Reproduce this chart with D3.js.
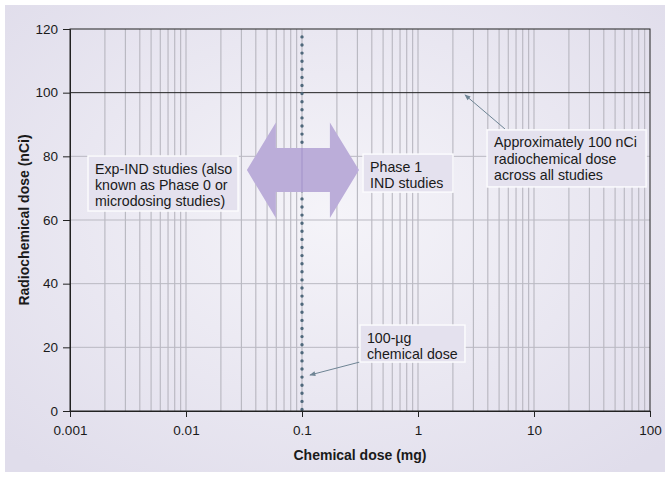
<!DOCTYPE html>
<html>
<head>
<meta charset="utf-8">
<script src="https://cdn.jsdelivr.net/npm/d3@7"></script>
<style>
  body { margin: 0; background: #fff; }
  svg text { font-family: "Liberation Sans", Arial, sans-serif; fill: #1a1a1a; }
</style>
</head>
<body>
<div id="graph"></div>
<script>
// x axis: chemical dose (mg), log scale
const xDomain = [0.001, 100];
const xTickValues = [0.001, 0.01, 0.1, 1, 10, 100];
const xTickLabels = ["0.001", "0.01", "0.1", "1", "10", "100"];

// y axis: radiochemical dose (nCi)
const yDomain = [0, 120];
const yTickValues = [0, 20, 40, 60, 80, 100, 120];

// reference lines
const doseLineX = 0.1;      // 100-µg chemical dose
const doseLineY = 100;      // ~100 nCi radiochemical dose

// double arrow (data units): tips, head bases, shaft and head extents
const arrowTips = [0.0335, 0.31];
const arrowHeadBases = [0.0595, 0.174];
const arrowShaft = [68.8, 82.6];
const arrowHead = [60.6, 90.6];
const arrowMidY = 75.7;

// annotation boxes
const notes = [
    { lines: ["Exp-IND studies (also", "known as Phase 0 or", "microdosing studies)"], x: 0.00143, y: 80.1, w: 150, h: 55 },
    { lines: ["Phase 1", "IND studies"], x: 0.336, y: 80.7, w: 90, h: 38 },
    { lines: ["Approximately 100 nCi", "radiochemical dose", "across all studies"], x: 3.94, y: 88.3, w: 159, h: 57 },
    { lines: ["100-µg", "chemical dose"], x: 0.316, y: 27.0, w: 105, h: 37 }
];

// leader lines: from [x, y] to arrowhead [x, y]
const leaders = [
    { from: [5.62, 88.6], to: [2.54, 99.3] },
    { from: [0.316, 15.4], to: [0.117, 11.3] }
];

const width = 672, height = 477;
const margin = { left: 70, right: 22, top: 29, bottom: 66 };

const svg = d3.select("#graph").append("svg")
    .attr("width", width)
    .attr("height", height);

// background gradient
const defs = svg.append("defs");
const grad = defs.append("radialGradient").attr("id", "bg")
    .attr("cx", "50%").attr("cy", "45%").attr("r", "70%");
grad.append("stop").attr("offset", "0%").attr("stop-color", "#f5f4f9");
grad.append("stop").attr("offset", "100%").attr("stop-color", "#e0ddeb");

svg.append("rect")
    .attr("x", 5).attr("y", 5)
    .attr("width", 660).attr("height", 467)
    .attr("fill", "url(#bg)");

const xScale = d3.scaleLog().domain(xDomain).range([margin.left, width - margin.right]);
const yScale = d3.scaleLinear().domain(yDomain).range([height - margin.bottom, margin.top]);

// vertical grid: 1..9 in every decade
const minor = [];
for (let e = -3; e < 2; e++) {
    for (let m = 1; m <= 9; m++) {
        const v = m * Math.pow(10, e);
        if (v > xDomain[0]) minor.push(v);
    }
}
svg.append("g").selectAll("line").data(minor).join("line")
    .attr("x1", d => xScale(d)).attr("x2", d => xScale(d))
    .attr("y1", yScale(0)).attr("y2", yScale(120))
    .attr("stroke", "#b2b1ba").attr("stroke-width", 1);

// horizontal grid
svg.append("g").selectAll("line").data(yTickValues.filter(d => d > 0 && d < 120 && d !== doseLineY)).join("line")
    .attr("x1", xScale.range()[0]).attr("x2", xScale.range()[1])
    .attr("y1", d => yScale(d)).attr("y2", d => yScale(d))
    .attr("stroke", "#bab9c2").attr("stroke-width", 1);

// 100 nCi line
svg.append("line")
    .attr("x1", xScale.range()[0]).attr("x2", xScale.range()[1])
    .attr("y1", yScale(doseLineY)).attr("y2", yScale(doseLineY))
    .attr("stroke", "#222").attr("stroke-width", 1);

// dotted 100-µg line
svg.append("line")
    .attr("x1", xScale(doseLineX)).attr("x2", xScale(doseLineX))
    .attr("y1", yScale(0) - 1.5).attr("y2", yScale(120))
    .attr("stroke", "#4f687b").attr("stroke-width", 3.4)
    .attr("stroke-linecap", "round")
    .attr("stroke-dasharray", "0 8.1");

// frame
svg.append("rect")
    .attr("x", xScale.range()[0]).attr("y", yScale(120))
    .attr("width", xScale.range()[1] - xScale.range()[0])
    .attr("height", yScale(0) - yScale(120))
    .attr("fill", "none").attr("stroke", "#222").attr("stroke-width", 1);

// axes
const yAxis = svg.append("g")
    .attr("transform", `translate(${margin.left}, 0)`)
    .call(d3.axisLeft(yScale).tickValues(yTickValues).tickSize(7).tickPadding(5));
yAxis.select(".domain").attr("stroke", "#222");
yAxis.selectAll(".tick line").attr("stroke", "#222");
yAxis.selectAll(".tick text").attr("font-size", 13.5).attr("fill", "#1a1a1a")
    .attr("font-family", "Liberation Sans, Arial, sans-serif");

const xAxis = svg.append("g")
    .attr("transform", `translate(0, ${yScale(0)})`)
    .call(d3.axisBottom(xScale).tickValues(xTickValues)
        .tickFormat((d, i) => xTickLabels[i]).tickSize(6).tickPadding(8));
xAxis.select(".domain").attr("stroke", "#222");
xAxis.selectAll(".tick line").attr("stroke", "#222");
xAxis.selectAll(".tick text").attr("font-size", 13.5).attr("fill", "#1a1a1a")
    .attr("font-family", "Liberation Sans, Arial, sans-serif");

// axis titles
svg.append("text")
    .attr("text-anchor", "middle")
    .attr("font-weight", "bold").attr("font-size", 14)
    .attr("transform", `translate(29, ${(yScale(0) + yScale(120)) / 2}) rotate(-90)`)
    .text("Radiochemical dose (nCi)");

svg.append("text")
    .attr("text-anchor", "middle")
    .attr("font-weight", "bold").attr("font-size", 14)
    .attr("x", (xScale.range()[0] + xScale.range()[1]) / 2)
    .attr("y", 460)
    .text("Chemical dose (mg)");

// double arrow
const ax = arrowTips.map(xScale), hb = arrowHeadBases.map(xScale);
const sy = arrowShaft.map(yScale), hy = arrowHead.map(yScale), my = yScale(arrowMidY);
const arrowPts = [
    [ax[0], my], [hb[0], hy[1]], [hb[0], sy[1]], [hb[1], sy[1]], [hb[1], hy[1]],
    [ax[1], my], [hb[1], hy[0]], [hb[1], sy[0]], [hb[0], sy[0]], [hb[0], hy[0]]
];
svg.append("path")
    .attr("d", d3.line()(arrowPts) + "Z")
    .attr("fill", "#bbadd9");
svg.append("line")
    .attr("x1", xScale(doseLineX)).attr("x2", xScale(doseLineX))
    .attr("y1", sy[1]).attr("y2", sy[0])
    .attr("stroke", "#a696cb").attr("stroke-width", 1.2);

// leader lines
defs.append("marker").attr("id", "head")
    .attr("viewBox", "0 0 10 10").attr("refX", 9).attr("refY", 5)
    .attr("markerWidth", 7).attr("markerHeight", 6).attr("orient", "auto")
    .append("path").attr("d", "M0,1 L10,5 L0,9 Z").attr("fill", "#6e8494");

svg.append("g").selectAll("line").data(leaders).join("line")
    .attr("x1", d => xScale(d.from[0])).attr("y1", d => yScale(d.from[1]))
    .attr("x2", d => xScale(d.to[0])).attr("y2", d => yScale(d.to[1]))
    .attr("stroke", "#6e8494").attr("stroke-width", 1)
    .attr("marker-end", "url(#head)");

// annotation boxes
const noteG = svg.append("g").selectAll("g").data(notes).join("g")
    .attr("transform", d => `translate(${xScale(d.x)}, ${yScale(d.y)})`);
noteG.append("rect")
    .attr("width", d => d.w).attr("height", d => d.h)
    .attr("fill", "#e4e1ee").attr("stroke", "#fbfbfd").attr("stroke-width", 1.5);
noteG.each(function (d) {
    d3.select(this).selectAll("text").data(d.lines).join("text")
        .attr("x", 7)
        .attr("y", (t, i) => 17.5 + i * 16.4)
        .attr("font-size", 14.2)
        .attr("fill", "#222")
        .text(t => t);
});
</script>
</body>
</html>
